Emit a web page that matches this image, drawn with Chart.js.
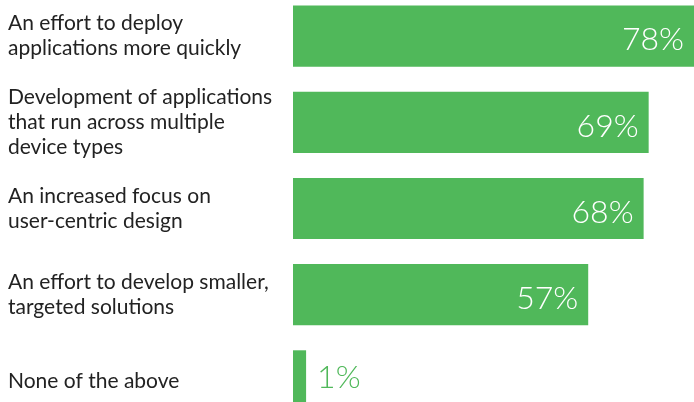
<!DOCTYPE html>
<html>
<head>
<meta charset="utf-8">
<script src="https://cdn.jsdelivr.net/npm/chart.js@4/dist/chart.umd.min.js"></script>
<style>
    html, body { margin: 0; padding: 0; background: #fff; overflow: hidden; }
    body { width: 694px; height: 402px; position: relative; }
    #wrap { position: absolute; left: 0; top: -7px; width: 694px; height: 431px; }
</style>
</head>
<body>
<div id="wrap"><canvas id="chart"></canvas></div>
<script>
const categories = [
    ['An effort to deploy', 'applications more quickly'],
    ['Development of applications', 'that run across multiple', 'device types'],
    ['An increased focus on', 'user-centric design'],
    ['An effort to develop smaller,', 'targeted solutions'],
    ['None of the above']
];
const percentages = [78, 69, 68, 57, 1];

const green = '#50b85a';
const axisMin = -1.6; // bars start a little left of zero, like the original

// Draw the % values at the end of each bar
const valueLabels = {
    id: 'valueLabels',
    afterDatasetsDraw(chart) {
        const ctx = chart.ctx;
        const meta = chart.getDatasetMeta(0);
        ctx.save();
        ctx.font = '300 32px Lato';
        ctx.textBaseline = 'middle';
        meta.data.forEach((bar, i) => {
            const v = percentages[i];
            const text = v + '%';
            if (v > 10) {
                ctx.fillStyle = '#ffffff';
                ctx.textAlign = 'right';
                ctx.fillText(text, bar.x - 10, bar.y + 4);
            } else {
                ctx.fillStyle = green;
                ctx.textAlign = 'left';
                ctx.fillText(text, bar.x + 11, bar.y - 3);
            }
        });
        ctx.restore();
    }
};

new Chart(document.getElementById('chart'), {
    type: 'bar',
    data: {
        labels: categories,
        datasets: [{
            data: percentages,
            base: axisMin,
            backgroundColor: green,
            borderWidth: 0,
            barPercentage: 1,
            categoryPercentage: 0.71
        }]
    },
    options: {
        indexAxis: 'y',
        responsive: true,
        maintainAspectRatio: false,
        animation: false,
        layout: { padding: { left: 8, right: 0, top: 0, bottom: 0 } },
        plugins: {
            legend: { display: false },
            tooltip: { enabled: false }
        },
        scales: {
            x: {
                display: false,
                min: axisMin,
                max: 78
            },
            y: {
                grid: { display: false },
                border: { display: false },
                ticks: {
                    crossAlign: 'far',
                    color: '#222',
                    font: { family: 'Lato', size: 21, lineHeight: 1.2 }
                },
                afterFit(scale) {
                    scale.width = 285;
                    scale.paddingTop = 0;
                    scale.paddingBottom = 0;
                }
            }
        }
    },
    plugins: [valueLabels]
});
</script>
</body>
</html>
